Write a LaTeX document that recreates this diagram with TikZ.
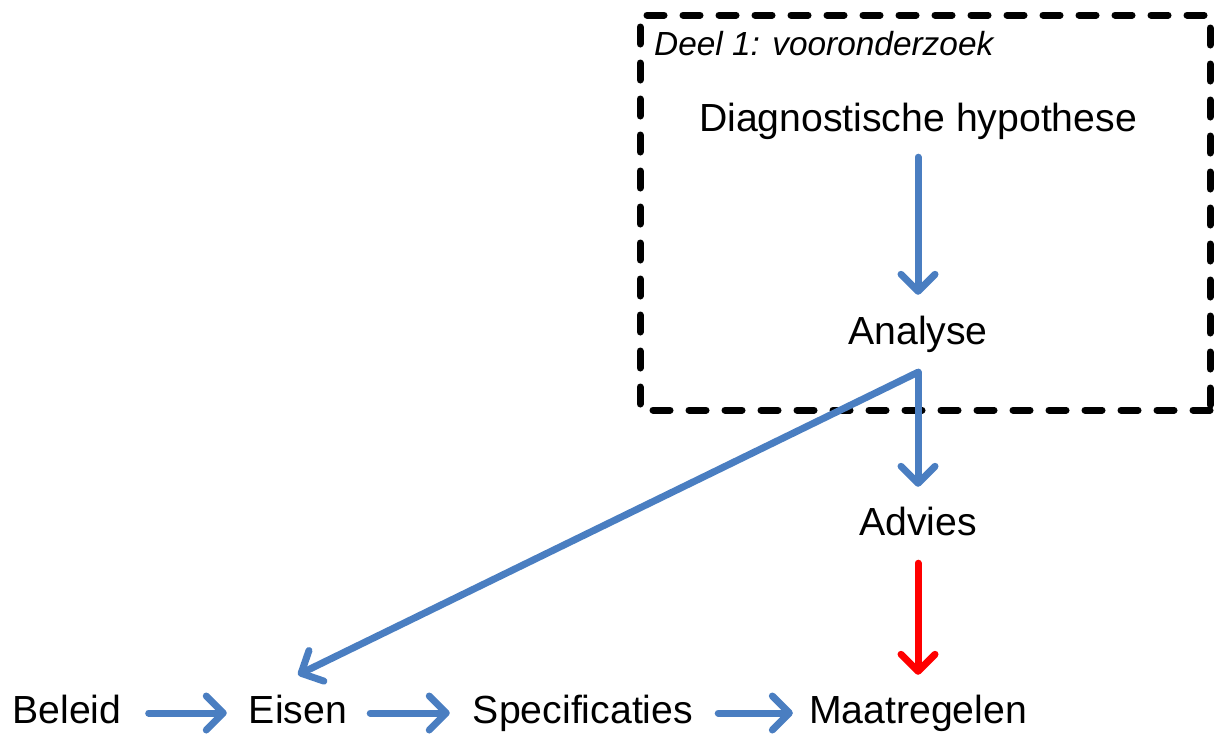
\documentclass[tikz,border=0pt]{standalone}
\usepackage{fontspec}
\setmainfont{Liberation Sans}
\usetikzlibrary{arrows.meta}
\definecolor{flowblue}{RGB}{74,126,193}
\definecolor{flowred}{RGB}{255,0,0}
\begin{document}
\begin{tikzpicture}[x=1pt,y=-1pt,
  lbl/.style={anchor=base,inner sep=0pt,text height=28pt,text depth=8pt,
    font=\fontsize{39.2}{46}\selectfont},
  flow/.style={draw=flowblue,line width=7pt,line cap=round,line join=round,
    -{Straight Barb[length=17pt,width=34pt,round]}},
  flowred/.style={flow,draw=flowred},
  phase/.style={draw=black,line width=7pt,line cap=round,
    dash pattern=on 17pt off 19pt}]
\useasboundingbox (0,0) rectangle (1214,734);

% phase 1 frame
\draw[phase] (1210,410) -- (640,410) -- (640,15) -- (1210,15) -- cycle;
\node[anchor=base west,inner sep=0pt,font=\fontsize{33.4}{40}\selectfont\itshape]
  (deel) at (654,55) {Deel 1: vooronderzoek};

% steps
\node[lbl] (diag)    at (918,131) {Diagnostische hypothese};
\node[lbl] (analyse) at (918,344) {Analyse};
\node[lbl] (advies)  at (918,535) {Advies};
\node[lbl] (beleid)  at (67,723)  {Beleid};
\node[lbl] (eisen)   at (298,723) {Eisen};
\node[lbl] (spec)    at (583,723) {Specificaties};
\node[lbl] (maat)    at (918,723) {Maatregelen};
\coordinate (fork) at ([yshift=-20pt]analyse.south);

% connectors
\draw[flow,shorten <=18pt,shorten >=21pt] (diag) -- (analyse);
\draw[flow,shorten >=20pt] (fork) -- (advies);
\draw[flow] (fork) -- ([yshift=20pt]eisen.north);
\draw[flowred,shorten <=20pt,shorten >=20pt] (advies) -- (maat);
\draw[flow,shorten <=27pt,shorten >=22pt] (beleid) -- (eisen);
\draw[flow,shorten <=23pt,shorten >=23pt] (eisen) -- (spec);
\draw[flow,shorten <=25pt,shorten >=16pt] (spec) -- (maat);
\end{tikzpicture}
\end{document}
